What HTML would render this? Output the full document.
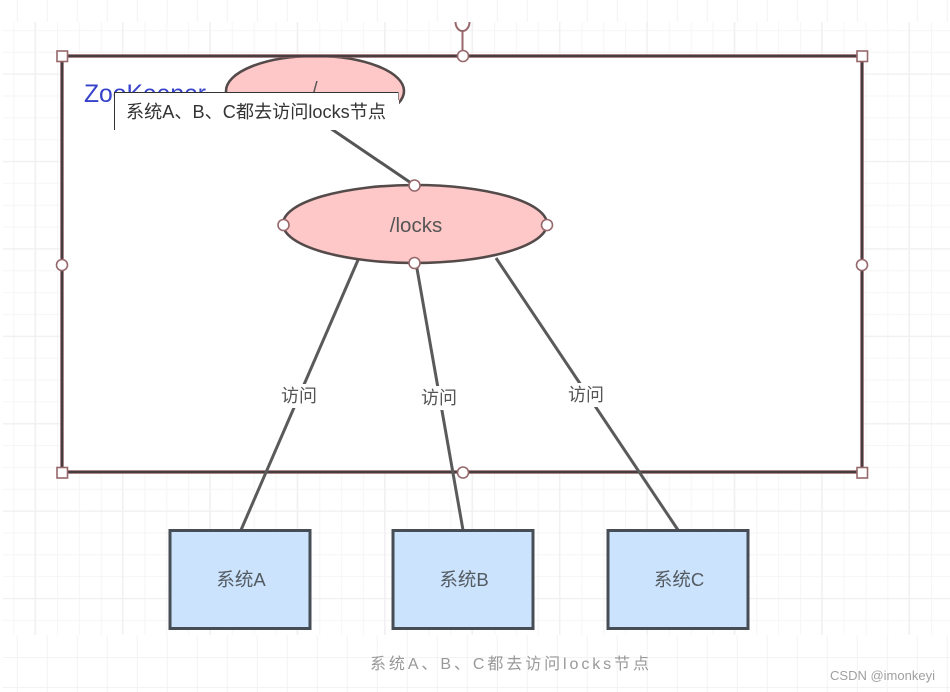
<!DOCTYPE html>
<html><head><meta charset="utf-8"><style>
html,body{margin:0;padding:0;background:#fff;width:950px;height:692px;overflow:hidden}
svg{display:block}
text{font-family:"Liberation Sans","Noto Sans CJK SC",sans-serif}
</style></head><body>
<svg width="950" height="692" viewBox="0 0 950 692" xmlns="http://www.w3.org/2000/svg">
<defs>
<pattern id="outer" x="16.7" y="-3" width="30" height="30" patternUnits="userSpaceOnUse">
<path d="M0.5 0V30M0 0.5H30" fill="none" stroke="#f3f3f6" stroke-width="1"/>
</pattern>
<pattern id="minor" x="13.3" y="8" width="21.85" height="21.85" patternUnits="userSpaceOnUse">
<path d="M0.5 0V21.85M0 0.5H21.85" fill="none" stroke="#f7f6f7" stroke-width="1.2"/>
</pattern>
<pattern id="major" x="34.5" y="73.5" width="87.4" height="87.4" patternUnits="userSpaceOnUse">
<path d="M0.5 0V87.4M0 0.5H87.4" fill="none" stroke="#f1eff1" stroke-width="1.5"/>
</pattern>
</defs>
<rect x="3" y="0" width="947" height="692" fill="url(#outer)"/>
<rect x="3" y="22" width="947" height="613" fill="#fff"/>
<rect x="3" y="22" width="947" height="613" fill="url(#minor)"/>
<rect x="3" y="22" width="947" height="613" fill="url(#major)"/>
<rect x="62" y="56" width="800" height="416" fill="#fff"/>

<ellipse cx="315" cy="91" rx="89" ry="35" fill="#ffc8c8" stroke="#544a4a" stroke-width="2.600"/>
<text x="315" y="95" font-size="19" fill="#555" text-anchor="middle">/</text>
<line x1="330" y1="128" x2="414" y2="185" stroke="#555" stroke-width="3"/>

<path d="M62 56H862V472H62Z" fill="none" stroke="#8a5f63" stroke-width="3.500"/>
<path d="M62 56H862V472H62Z" fill="none" stroke="#473c3f" stroke-width="2"/>
<line x1="462.500" y1="31" x2="462.500" y2="56" stroke="#96686c" stroke-width="2"/>

<g stroke="#5a5a5a" stroke-width="3" fill="none">
<line x1="358" y1="260" x2="241" y2="530"/>
<line x1="416" y1="263" x2="463" y2="530"/>
<line x1="496" y1="258" x2="678" y2="530"/>
</g>

<ellipse cx="415" cy="224" rx="132" ry="39" fill="#ffc8c8" stroke="#544a4a" stroke-width="2.600"/>
<text x="416" y="232" font-size="20.500" fill="#555" text-anchor="middle">/locks</text>

<rect x="280" y="384" width="38" height="24" fill="#fff"/>
<rect x="420" y="386" width="38" height="24" fill="#fff"/>
<rect x="567" y="383" width="38" height="24" fill="#fff"/>
<g font-size="18" fill="#555" text-anchor="middle">
<text x="299" y="402">访问</text>
<text x="439" y="404">访问</text>
<text x="586" y="401">访问</text>
</g>

<g fill="#cbe3fd" stroke="#474d54" stroke-width="3">
<rect x="170" y="530.500" width="140" height="98"/>
<rect x="393" y="530.500" width="140" height="98"/>
<rect x="608" y="530.500" width="140" height="98"/>
</g>
<g font-size="18.500" fill="#555b62" text-anchor="middle">
<text x="241" y="586">系统A</text>
<text x="464" y="586">系统B</text>
<text x="679" y="586">系统C</text>
</g>

<text x="84" y="102" font-size="25" fill="#3642c9" textLength="122" lengthAdjust="spacingAndGlyphs">ZooKeeper</text>

<g fill="#fff" stroke="#96686c" stroke-width="1.600">
<rect x="57" y="51" width="10.500" height="10.500"/>
<rect x="857" y="51" width="10.500" height="10.500"/>
<rect x="57" y="467.500" width="10.500" height="10.500"/>
<rect x="857" y="467.500" width="10.500" height="10.500"/>
<circle cx="463" cy="56" r="5.500"/>
<circle cx="62" cy="265" r="5.500"/>
<circle cx="862" cy="265" r="5.500"/>
<circle cx="463" cy="472.500" r="5.500"/>
<circle cx="414.500" cy="185.500" r="5.500"/>
<circle cx="414.500" cy="263" r="5.500"/>
<circle cx="283.500" cy="225" r="5.500"/>
<circle cx="547" cy="225" r="5.500"/>
</g>
<path d="M455.500 22A7 9 0 0 0 469.500 22" fill="#fff" stroke="#96686c" stroke-width="2"/>

<rect x="114" y="92" width="285" height="38" fill="#fff"/>
<path d="M114.500 130V92.500H398" fill="none" stroke="#333" stroke-width="1"/>
<line x1="398.500" y1="92" x2="398.500" y2="100" stroke="#888" stroke-width="1"/>
<text x="126" y="118" font-size="18" fill="#333" textLength="260" lengthAdjust="spacingAndGlyphs">系统A、B、C都去访问locks节点</text>

<text x="370" y="669" font-size="16" fill="#999" textLength="279" lengthAdjust="spacing">系统A、B、C都去访问locks节点</text>
<text x="830" y="680" font-size="13" fill="#a0a0a0" textLength="105" lengthAdjust="spacingAndGlyphs">CSDN @imonkeyi</text>
</svg>
</body></html>
